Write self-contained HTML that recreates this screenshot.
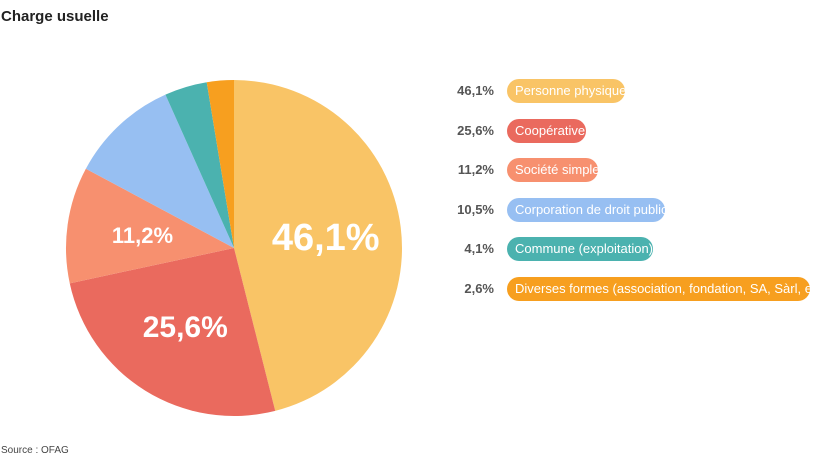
<!DOCTYPE html>
<html><head><meta charset="utf-8"><style>
body{margin:0;width:836px;height:468px;background:#fff;font-family:"Liberation Sans Narrow","Liberation Sans",sans-serif;position:relative;overflow:hidden}
.title{position:absolute;left:1px;top:8px;font-size:15px;font-weight:bold;color:#222}
.src{position:absolute;left:1px;top:445px;font-size:10px;color:#444}
.pct{position:absolute;width:60px;left:434px;text-align:right;font-size:13px;font-weight:bold;color:#555}
.pill{position:absolute;left:507px;height:24px;border-radius:12px;color:#fff;font-size:13px;line-height:24px;padding-left:8px;box-sizing:border-box;white-space:nowrap}
</style></head><body>
<div class="title">Charge usuelle</div>
<svg id="pie" width="836" height="468" style="position:absolute;left:0;top:0"></svg>
<div id="legend"></div>
<div class="src">Source : OFAG</div>
<script>
const categories=["Personne physiquet","Coopérative","Société simple","Corporation de droit public","Commune (exploitation)","Diverses formes (association, fondation, SA, Sàrl, etc.)"];
const values=[46.1,25.6,11.2,10.5,4.1,2.6];
const labels=["46,1%","25,6%","11,2%","10,5%","4,1%","2,6%"];
const colors=["#F9C466","#EA6A5E","#F7906F","#97BFF2","#4BB2AF","#F79F1F"];
const pillW=[118,79,91,158,146,303];
const inLabelSize=[38,30,22,0,0,0];
const cx=234,cy=248,r=168;
const svg=document.getElementById('pie');
const NS="http://www.w3.org/2000/svg";
const total=values.reduce((a,b)=>a+b,0);
let a0=0;
values.forEach((v,i)=>{
  const a1=a0+v/total*2*Math.PI;
  const p=(a)=>[cx+r*Math.sin(a),cy-r*Math.cos(a)];
  const [x0,y0]=p(a0),[x1,y1]=p(a1);
  const path=document.createElementNS(NS,'path');
  path.setAttribute('d',`M${cx},${cy}L${x0},${y0}A${r},${r} 0 ${a1-a0>Math.PI?1:0} 1 ${x1},${y1}Z`);
  path.setAttribute('fill',colors[i]);
  
  
  svg.appendChild(path);
  if(inLabelSize[i]){
    const am=(a0+a1)/2, rr=r*0.55;
    const t=document.createElementNS(NS,'text');
    t.setAttribute('x',cx+rr*Math.sin(am));t.setAttribute('y',cy-rr*Math.cos(am)+inLabelSize[i]*0.35);
    t.setAttribute('text-anchor','middle');t.setAttribute('fill','#fff');t.setAttribute('font-weight','bold');
    t.setAttribute('font-size',inLabelSize[i]);t.setAttribute('font-family','Liberation Sans, sans-serif');
    t.textContent=labels[i];
    
    
    svg.appendChild(t);
  }
  a0=a1;
});
const lg=document.getElementById('legend');
categories.forEach((c,i)=>{
  const y=91+i*39.6;
  const pc=document.createElement('div');pc.className='pct';pc.style.top=(y-8)+'px';pc.textContent=labels[i];
  
  
  lg.appendChild(pc);
  const pl=document.createElement('div');pl.className='pill';pl.style.top=(y-12)+'px';pl.style.width=pillW[i]+'px';pl.style.background=colors[i];pl.textContent=c;
  
  
  lg.appendChild(pl);
});
</script>
</body></html>
